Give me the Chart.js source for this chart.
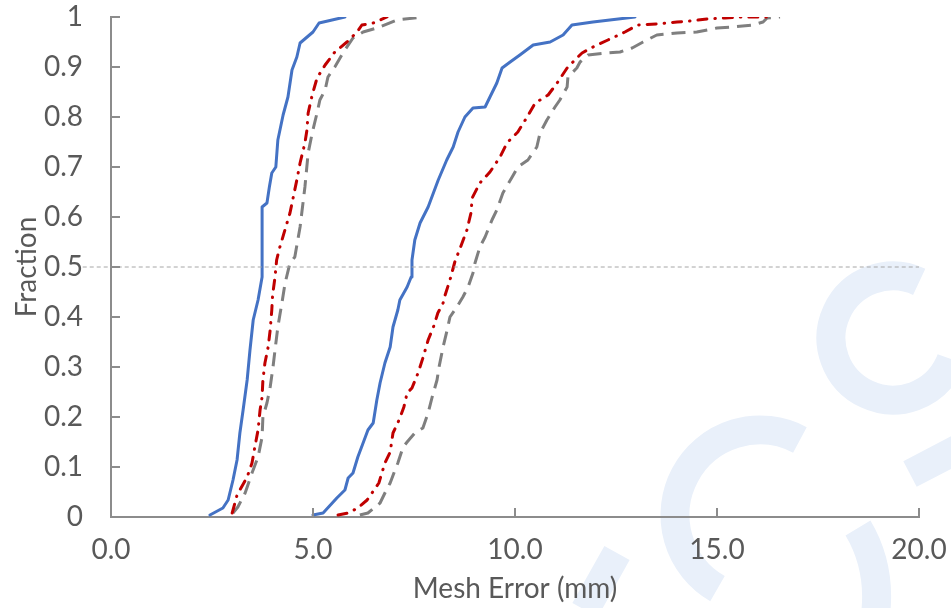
<!DOCTYPE html>
<html>
<head>
<meta charset="utf-8">
<script src="https://cdn.jsdelivr.net/npm/chart.js@4.4.1/dist/chart.umd.min.js"></script>
<style>
  html, body { margin: 0; padding: 0; background: #fff; }
  #wrap { width: 951px; height: 608px; }
</style>
</head>
<body>
<div id="wrap"><canvas id="chart" width="951" height="608"></canvas></div>
<script>
// left group of curves
const solidLowX = [2.45, 2.77, 2.90, 3.02, 3.12, 3.19, 3.27, 3.37, 3.44, 3.52, 3.64, 3.74, 3.74, 3.86, 3.92, 3.98, 4.08, 4.13, 4.26, 4.38, 4.48, 4.60, 4.68, 5.00, 5.15, 5.79];
const solidLowY = [0.004, 0.018, 0.034, 0.074, 0.114, 0.168, 0.214, 0.274, 0.334, 0.394, 0.434, 0.48, 0.62, 0.628, 0.66, 0.688, 0.70, 0.754, 0.804, 0.84, 0.894, 0.92, 0.948, 0.97, 0.988, 1.0];

const dashDotLowX = [3.00, 3.12, 3.37, 3.49, 3.56, 3.64, 3.69, 3.74, 3.76, 3.81, 3.89, 3.94, 3.98, 4.00, 4.06, 4.10, 4.18, 4.43, 4.60, 4.68, 4.80, 4.85, 4.88, 4.98, 5.10, 5.30, 5.54, 5.84, 6.09, 6.21, 6.49, 6.83];
const dashDotLowY = [0.008, 0.044, 0.08, 0.108, 0.14, 0.174, 0.214, 0.24, 0.274, 0.308, 0.34, 0.374, 0.414, 0.444, 0.48, 0.514, 0.54, 0.608, 0.674, 0.708, 0.748, 0.774, 0.808, 0.844, 0.878, 0.904, 0.93, 0.95, 0.97, 0.984, 0.988, 1.0];

const dashLowX = [3.02, 3.14, 3.32, 3.49, 3.64, 3.74, 3.76, 3.86, 3.94, 4.01, 4.06, 4.13, 4.23, 4.31, 4.43, 4.55, 4.68, 4.80, 4.88, 4.98, 5.10, 5.17, 5.30, 5.37, 5.54, 5.74, 5.99, 6.24, 6.58, 7.08, 7.72];
const dashLowY = [0.008, 0.02, 0.048, 0.088, 0.12, 0.16, 0.2, 0.228, 0.26, 0.3, 0.334, 0.38, 0.428, 0.468, 0.508, 0.52, 0.58, 0.66, 0.728, 0.768, 0.808, 0.834, 0.854, 0.88, 0.9, 0.928, 0.958, 0.97, 0.978, 0.994, 1.0];

// right group of curves
const solidHighX = [5.00, 5.25, 5.59, 5.79, 5.87, 5.99, 6.11, 6.24, 6.36, 6.49, 6.58, 6.66, 6.78, 6.91, 6.98, 7.10, 7.15, 7.33, 7.43, 7.45, 7.52, 7.65, 7.85, 8.10, 8.31, 8.47, 8.59, 8.76, 8.96, 9.26, 9.38, 9.55, 9.68, 9.88, 10.12, 10.45, 10.87, 11.19, 11.41, 11.93, 12.97];
const solidHighY = [0.004, 0.008, 0.038, 0.054, 0.078, 0.088, 0.12, 0.148, 0.174, 0.188, 0.234, 0.268, 0.308, 0.34, 0.38, 0.414, 0.434, 0.46, 0.48, 0.514, 0.554, 0.588, 0.62, 0.674, 0.714, 0.74, 0.77, 0.8, 0.818, 0.82, 0.84, 0.868, 0.898, 0.91, 0.924, 0.944, 0.95, 0.964, 0.984, 0.99, 1.0];

const dashDotHighX = [5.62, 5.87, 6.11, 6.34, 6.46, 6.63, 6.78, 6.91, 6.98, 7.13, 7.25, 7.33, 7.45, 7.60, 7.72, 7.85, 7.99, 8.09, 8.22, 8.27, 8.39, 8.51, 8.69, 8.81, 8.91, 8.94, 9.13, 9.38, 9.63, 9.80, 10.07, 10.30, 10.50, 10.82, 11.06, 11.29, 11.53, 11.66, 11.93, 12.30, 12.72, 13.04, 13.51, 14.01, 14.33, 14.75, 15.20, 15.62, 16.30];
const dashDotHighY = [0.004, 0.008, 0.018, 0.034, 0.048, 0.068, 0.108, 0.13, 0.168, 0.194, 0.22, 0.248, 0.258, 0.288, 0.318, 0.354, 0.382, 0.408, 0.428, 0.444, 0.474, 0.51, 0.548, 0.574, 0.608, 0.638, 0.668, 0.69, 0.72, 0.748, 0.77, 0.8, 0.828, 0.844, 0.87, 0.898, 0.918, 0.928, 0.94, 0.954, 0.97, 0.984, 0.986, 0.99, 0.992, 0.996, 0.998, 1.0, 1.0];

const dashHighX = [6.16, 6.36, 6.66, 6.78, 6.91, 7.03, 7.10, 7.23, 7.33, 7.52, 7.72, 7.85, 7.95, 8.07, 8.12, 8.22, 8.32, 8.39, 8.56, 8.71, 8.84, 8.96, 9.01, 9.13, 9.26, 9.43, 9.55, 9.70, 9.93, 10.07, 10.32, 10.54, 10.62, 10.79, 10.99, 11.11, 11.29, 11.31, 11.53, 11.61, 11.81, 12.27, 12.60, 12.90, 13.17, 13.51, 14.01, 14.50, 15.00, 15.40, 15.89, 16.14, 16.24, 16.56];
const dashHighY = [0.004, 0.008, 0.028, 0.048, 0.068, 0.094, 0.108, 0.14, 0.15, 0.168, 0.178, 0.208, 0.24, 0.274, 0.3, 0.34, 0.374, 0.4, 0.42, 0.44, 0.46, 0.488, 0.508, 0.54, 0.56, 0.594, 0.614, 0.648, 0.68, 0.7, 0.714, 0.74, 0.768, 0.794, 0.82, 0.834, 0.86, 0.88, 0.898, 0.91, 0.924, 0.928, 0.93, 0.938, 0.95, 0.964, 0.968, 0.97, 0.978, 0.98, 0.984, 0.99, 0.998, 1.0];

// median reference line
const medianX = [-0.7, 20];
const medianY = [0.5, 0.5];

const xTicks = [0, 5, 10, 15, 20];

const axisGray = "#8c8c8c";
const textGray = "#595959";
const fontFamily = "Lato, 'Open Sans', sans-serif";

function toPoints(xs, ys) {
  return xs.map((x, i) => ({ x: x, y: ys[i] }));
}

function series(label, xs, ys, color, dash, cap) {
  return {
    label: label,
    data: toPoints(xs, ys),
    borderColor: color,
    backgroundColor: color,
    borderWidth: 3,
    borderDash: dash,
    borderCapStyle: cap,
    borderJoinStyle: "round",
    pointRadius: 0,
    tension: 0,
    fill: false,
  };
}

// faint watermark behind the plot
const watermark = {
  id: "watermark",
  beforeDraw(chart) {
    const ctx = chart.ctx;
    ctx.save();
    ctx.strokeStyle = "#e9f0fa";
    ctx.lineWidth = 29;
    ctx.lineCap = "butt";
    ctx.beginPath();
    ctx.arc(893, 338, 62, -65 * Math.PI / 180, 20 * Math.PI / 180, true);
    ctx.stroke();
    ctx.beginPath();
    ctx.arc(760, 515, 85, -62 * Math.PI / 180, 120 * Math.PI / 180, true);
    ctx.stroke();
    ctx.beginPath();
    ctx.moveTo(617, 553);
    ctx.lineTo(585, 610);
    ctx.stroke();
    ctx.beginPath();
    ctx.moveTo(910, 474);
    ctx.lineTo(960, 448);
    ctx.stroke();
    ctx.beginPath();
    ctx.moveTo(858, 528);
    ctx.quadraticCurveTo(880, 565, 876, 610);
    ctx.stroke();
    ctx.restore();
  },
};

// short inward tick marks like the original
const innerTicks = {
  id: "innerTicks",
  afterDatasetsDraw(chart) {
    const { ctx, chartArea, scales } = chart;
    ctx.save();
    ctx.strokeStyle = axisGray;
    ctx.lineWidth = 2;
    ctx.beginPath();
    scales.y.ticks.forEach((t) => {
      const py = Math.round(scales.y.getPixelForValue(t.value));
      ctx.moveTo(chartArea.left, py);
      ctx.lineTo(chartArea.left + 9, py);
    });
    scales.x.ticks.forEach((t) => {
      const px = Math.round(scales.x.getPixelForValue(t.value));
      ctx.moveTo(px, chartArea.bottom);
      ctx.lineTo(px, chartArea.bottom - 9);
    });
    ctx.stroke();
    ctx.restore();
  },
};

const canvas = document.getElementById("chart");

new Chart(canvas, {
  type: "line",
  data: {
    datasets: [
      {
        label: "median",
        data: toPoints(medianX, medianY),
        borderColor: "#a6a6a6",
        borderWidth: 1,
        borderDash: [4, 3],
        pointRadius: 0,
        clip: false,
      },
      series("Solid (low)", solidLowX, solidLowY, "#4472c4", [], "round"),
      series("Dash-dot (low)", dashDotLowX, dashDotLowY, "#c00000", [9, 8, 0.5, 8], "round"),
      series("Dash (low)", dashLowX, dashLowY, "#7f7f7f", [14, 8], "butt"),
      series("Solid (high)", solidHighX, solidHighY, "#4472c4", [], "round"),
      series("Dash-dot (high)", dashDotHighX, dashDotHighY, "#c00000", [9, 8, 0.5, 8], "round"),
      series("Dash (high)", dashHighX, dashHighY, "#7f7f7f", [14, 8], "butt"),
    ],
  },
  options: {
    responsive: false,
    animation: false,
    layout: { padding: { top: 17, right: 32, left: 0, bottom: 0 } },
    plugins: {
      legend: { display: false },
      tooltip: { enabled: false },
    },
    scales: {
      x: {
        type: "linear",
        min: 0,
        max: 20,
        afterBuildTicks: (scale) => {
          scale.ticks = xTicks.map((v) => ({ value: v }));
        },
        afterFit: (scale) => {
          scale.height = 91;
          scale.paddingLeft = 0;
          scale.paddingRight = 0;
        },
        grid: { display: false, drawTicks: false },
        border: { color: axisGray, width: 2 },
        ticks: {
          padding: 16,
          color: textGray,
          font: { family: fontFamily, size: 28 },
          maxRotation: 0,
          callback: (v) => Number(v).toFixed(1),
        },
        title: {
          display: true,
          text: "Mesh Error (mm)",
          color: textGray,
          font: { family: fontFamily, size: 28 },
          padding: { top: 0, bottom: 2 },
        },
      },
      y: {
        type: "linear",
        min: 0,
        max: 1,
        afterFit: (scale) => {
          scale.width = 111;
          scale.paddingTop = 0;
          scale.paddingBottom = 0;
        },
        grid: { display: false, drawTicks: false },
        border: { color: axisGray, width: 2 },
        ticks: {
          stepSize: 0.1,
          padding: 28,
          color: textGray,
          font: { family: fontFamily, size: 28 },
          callback: (v) => {
            const r = Math.round(v * 10) / 10;
            return r === 0 || r === 1 ? String(r) : r.toFixed(1);
          },
        },
        title: {
          display: true,
          text: "Fraction",
          color: textGray,
          font: { family: fontFamily, size: 28 },
          padding: { top: 10, bottom: 0 },
        },
      },
    },
  },
  plugins: [watermark, innerTicks],
});
</script>
</body>
</html>
